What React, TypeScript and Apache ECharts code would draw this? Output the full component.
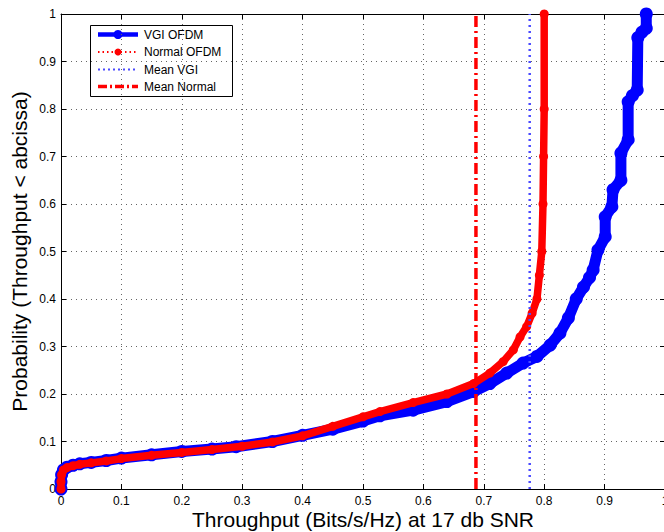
import React, { useEffect, useRef } from "react";
import * as echarts from "echarts";

// VGI OFDM empirical CDF (throughput, probability)
const vgiX = [0, 0, 0.001, 0.004, 0.01, 0.02, 0.031, 0.05, 0.075, 0.1, 0.15, 0.2, 0.25, 0.29, 0.35, 0.4, 0.45, 0.5, 0.528, 0.583, 0.639, 0.683, 0.71, 0.738, 0.765, 0.788, 0.81, 0.826, 0.84, 0.853, 0.865, 0.875, 0.881, 0.889, 0.901, 0.901, 0.912, 0.914, 0.927, 0.927, 0.939, 0.939, 0.946, 0.954, 0.955, 0.962, 0.969, 0.969];
const vgiY = [0, 0.015, 0.03, 0.04, 0.046, 0.05, 0.053, 0.056, 0.06, 0.065, 0.072, 0.079, 0.084, 0.089, 0.1, 0.113, 0.126, 0.143, 0.154, 0.166, 0.184, 0.205, 0.222, 0.244, 0.265, 0.279, 0.303, 0.328, 0.36, 0.4, 0.425, 0.445, 0.461, 0.503, 0.531, 0.573, 0.594, 0.63, 0.65, 0.707, 0.735, 0.815, 0.828, 0.84, 0.95, 0.962, 0.97, 1.0];

// Normal OFDM empirical CDF
const normalX = [0, 0, 0.001, 0.004, 0.01, 0.02, 0.031, 0.05, 0.075, 0.1, 0.15, 0.2, 0.25, 0.3, 0.35, 0.4, 0.45, 0.5, 0.528, 0.583, 0.639, 0.683, 0.71, 0.732, 0.749, 0.76, 0.771, 0.78, 0.788, 0.792, 0.796, 0.798, 0.799, 0.8, 0.8];
const normalY = [0, 0.015, 0.03, 0.04, 0.045, 0.049, 0.052, 0.055, 0.059, 0.064, 0.071, 0.077, 0.083, 0.09, 0.099, 0.112, 0.132, 0.152, 0.163, 0.182, 0.2, 0.222, 0.244, 0.268, 0.293, 0.32, 0.342, 0.37, 0.4, 0.45, 0.5, 0.6, 0.7, 0.8, 1.0];

const meanVGI = 0.776;
const meanNormal = 0.687;

const legendLabels = ["VGI OFDM", "Normal OFDM", "Mean VGI", "Mean Normal"];
const xTitle = "Throughput (Bits/s/Hz) at 17 db SNR";
const yTitle = "Probability (Throughput < abcissa)";

const FONT = "'Liberation Sans', Arial, Helvetica, sans-serif";
const MEAN_BLUE = "#4a4aff";

function zip(xs: number[], ys: number[]) {
  return xs.map((x, i) => [x, ys[i]]);
}

export default function App() {
  const ref = useRef<HTMLDivElement>(null);
  useEffect(() => {
    if (!ref.current) return;
    const chart = echarts.init(ref.current, undefined, { renderer: "svg" });
    const grid = { left: 61, top: 14, width: 604, height: 475, outerBoundsMode: "none", containLabel: false };
    const gridLine = { show: true, lineStyle: { color: "#666", width: 1, type: [1, 4] as any } };
    const axisLine = { show: true, onZero: false, lineStyle: { color: "#000", width: 1 } };
    const tick = { show: true, inside: true, length: 5, lineStyle: { color: "#000" } };

    const lx1 = 98, lx2 = 138, tx = 144;
    const rows = [34.5, 52, 69.5, 86.5];

    chart.setOption({
      animation: false,
      backgroundColor: "#fff",
      grid,
      xAxis: [
        {
          type: "value", min: 0, max: 1, interval: 0.1,
          axisLine, axisTick: tick, splitLine: gridLine,
          axisLabel: { color: "#000", fontSize: 12, fontFamily: FONT, margin: 6 },
          name: xTitle, nameLocation: "middle", nameGap: 20, nameMoveOverlap: false,
          nameTextStyle: { color: "#000", fontSize: 21, fontFamily: FONT, lineHeight: 21 },
        },
        {
          type: "value", min: 0, max: 1, interval: 0.1, position: "top",
          axisLine, axisTick: tick, splitLine: { show: false }, axisLabel: { show: false },
        },
      ],
      yAxis: [
        {
          type: "value", min: 0, max: 1, interval: 0.1,
          axisLine, axisTick: tick, splitLine: gridLine,
          axisLabel: { color: "#000", fontSize: 12, fontFamily: FONT, margin: 5 },
          name: yTitle, nameLocation: "middle", nameGap: 31, nameMoveOverlap: false,
          nameTextStyle: { color: "#000", fontSize: 21, fontFamily: FONT },
        },
        {
          type: "value", min: 0, max: 1, interval: 0.1, position: "right",
          axisLine, axisTick: tick, splitLine: { show: false }, axisLabel: { show: false },
        },
      ],
      series: [
        {
          name: legendLabels[0], type: "line", data: zip(vgiX, vgiY),
          lineStyle: { color: "#0000ff", width: 11, cap: "round", join: "round" },
          itemStyle: { color: "#0000ff" },
          symbol: "circle", symbolSize: 13, showAllSymbol: true, z: 2,
        },
        {
          name: legendLabels[1], type: "line", data: zip(normalX, normalY),
          lineStyle: { color: "#ff0000", width: 7.5, cap: "round", join: "round" },
          itemStyle: { color: "#ff0000" },
          symbol: "circle", symbolSize: 9, showAllSymbol: true, z: 3,
        },
        {
          name: legendLabels[2], type: "line", data: [[meanVGI, 0], [meanVGI, 1]],
          lineStyle: { color: MEAN_BLUE, width: 2.5, type: [2, 4] as any },
          symbol: "none", z: 4,
        },
        {
          name: legendLabels[3], type: "line", data: [[meanNormal, 0], [meanNormal, 1]],
          lineStyle: { color: "#ff0000", width: 3.5, type: [11, 4, 2, 4] as any },
          symbol: "none", z: 5,
        },
      ],
      graphic: [
        {
          type: "group", z: 100,
          children: [
            { type: "rect", shape: { x: 90.5, y: 25.5, width: 142, height: 71 }, style: { fill: "#fff", stroke: "#000", lineWidth: 1 } },
            { type: "line", shape: { x1: lx1, y1: rows[0], x2: lx2, y2: rows[0] }, style: { stroke: "#0000ff", lineWidth: 4.5 } },
            { type: "circle", shape: { cx: 118, cy: rows[0], r: 4.5 }, style: { fill: "#0000ff" } },
            { type: "line", shape: { x1: lx1, y1: rows[1], x2: lx2, y2: rows[1] }, style: { stroke: "#ff0000", lineWidth: 2, lineDash: [1.5, 3] } },
            { type: "circle", shape: { cx: 118, cy: rows[1], r: 3.5 }, style: { fill: "#ff0000" } },
            { type: "line", shape: { x1: lx1, y1: rows[2], x2: lx2, y2: rows[2] }, style: { stroke: MEAN_BLUE, lineWidth: 2, lineDash: [2, 3] } },
            { type: "line", shape: { x1: lx1, y1: rows[3], x2: lx2, y2: rows[3] }, style: { stroke: "#ff0000", lineWidth: 3.5, lineDash: [9, 3, 2, 3] } },
            ...legendLabels.map((t, i) => ({
              type: "text", x: tx, y: rows[i],
              style: { text: t, fill: "#000", fontSize: 12, fontFamily: FONT, verticalAlign: "middle", align: "left" },
            })),
          ],
        },
      ],
    });
    return () => chart.dispose();
  }, []);
  return <div ref={ref} style={{ position: "fixed", left: 0, top: 0, width: 664, height: 532 }} />;
}
